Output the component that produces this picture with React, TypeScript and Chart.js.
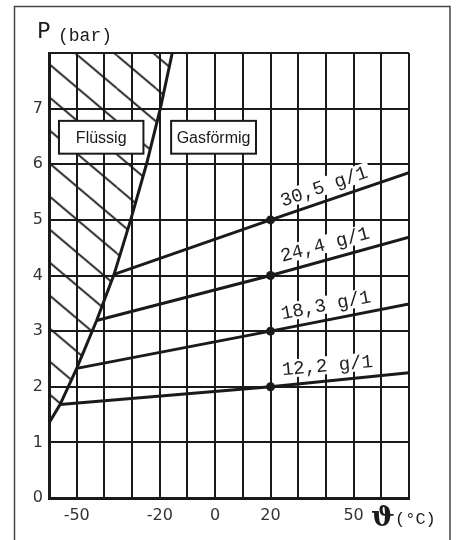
import { useEffect, useRef } from "react";
import { Chart, registerables } from "chart.js";

Chart.register(...registerables);

// Liquid / gas boundary (temperature °C, pressure bar)
const boundaryTemps = [-60, -56, -50, -42.8, -36.5, -30.5, -24.8, -19.8, -15.5];
const boundaryPressures = [1.35, 1.68, 2.33, 3.19, 4.02, 5, 6, 7, 8];

// Isochores
const iso12Temps = [-56, 20, 70];
const iso12Pressures = [1.68, 2.0, 2.25];
const iso18Temps = [-50, 20, 70];
const iso18Pressures = [2.33, 3.0, 3.49];
const iso24Temps = [-42.8, 20, 70];
const iso24Pressures = [3.19, 4.0, 4.69];
const iso30Temps = [-36.5, 20, 70];
const iso30Pressures = [4.02, 5.0, 5.85];
const isoLabels = ["12,2 g/1", "18,3 g/1", "24,4 g/1", "30,5 g/1"];

// Marked points
const markerTemps = [20, 20, 20, 20];
const markerPressures = [2, 3, 4, 5];

// Tick labels
const xTickLabels = [-50, -20, 0, 20, 50];
const yTickLabels = [0, 1, 2, 3, 4, 5, 6, 7];
const phaseLabels = ["Flüssig", "Gasförmig"];

const INK = "#1a1a1a";

const toPoints = (xs: number[], ys: number[]) => xs.map((x, i) => ({ x, y: ys[i] }));

const isoSeries = [
  { temps: iso12Temps, pressures: iso12Pressures },
  { temps: iso18Temps, pressures: iso18Pressures },
  { temps: iso24Temps, pressures: iso24Pressures },
  { temps: iso30Temps, pressures: iso30Pressures },
];

function makeHatch(): CanvasPattern | string {
  const W = 39, H = 33;
  const c = document.createElement("canvas");
  c.width = W;
  c.height = H;
  const g = c.getContext("2d");
  if (!g) return "rgba(0,0,0,0)";
  g.strokeStyle = INK;
  g.lineWidth = 1.8;
  for (const k of [-1, 0, 1]) {
    g.beginPath();
    g.moveTo(0, k * H);
    g.lineTo(W, H + k * H);
    g.stroke();
  }
  const pat = g.createPattern(c, "repeat");
  if (!pat) return "rgba(0,0,0,0)";
  try {
    pat.setTransform(new DOMMatrix().translate(0, 22.5));
  } catch (e) {}
  return pat;
}

const overlayPlugin = {
  id: "overlay",
  afterDatasetsDraw(chart: any) {
    const { ctx } = chart;
    const xs = chart.scales.x;
    const ys = chart.scales.y;
    ctx.save();

    // Phase boxes
    const boxes = [
      { text: phaseLabels[0], x0: -56.4, x1: -25.9 },
      { text: phaseLabels[1], x0: -15.9, x1: 14.75 },
    ];
    const by0 = ys.getPixelForValue(6.78);
    const by1 = ys.getPixelForValue(6.19);
    for (const b of boxes) {
      const px0 = xs.getPixelForValue(b.x0);
      const px1 = xs.getPixelForValue(b.x1);
      ctx.fillStyle = "#fff";
      ctx.fillRect(px0, by0, px1 - px0, by1 - by0);
      ctx.strokeStyle = INK;
      ctx.lineWidth = 2;
      ctx.strokeRect(px0, by0, px1 - px0, by1 - by0);
      ctx.fillStyle = INK;
      ctx.font = '16px "Liberation Sans", Arial, sans-serif';
      ctx.textAlign = "center";
      ctx.textBaseline = "middle";
      ctx.fillText(b.text, (px0 + px1) / 2, (by0 + by1) / 2 + 1);
    }

    // Isochore labels
    isoSeries.forEach((s, i) => {
      const t = s.temps, p = s.pressures;
      const n = t.length - 1;
      const ax = xs.getPixelForValue(t[0]), ay = ys.getPixelForValue(p[0]);
      const bx = xs.getPixelForValue(t[n]), byy = ys.getPixelForValue(p[n]);
      const a = Math.atan2(byy - ay, bx - ax);
      const lx = 41;
      const ly = p[0] + ((p[n] - p[0]) * (lx - t[0])) / (t[n] - t[0]);
      const px = xs.getPixelForValue(lx), py = ys.getPixelForValue(ly);
      const cx = px + Math.sin(a) * 15;
      const cy = py - Math.cos(a) * 15;
      ctx.save();
      ctx.translate(cx, cy);
      ctx.rotate(a);
      ctx.font = '19px "Liberation Mono", "DejaVu Sans Mono", monospace';
      const w = ctx.measureText(isoLabels[i]).width;
      ctx.fillStyle = "#fff";
      ctx.fillRect(-w / 2 - 3, -9, w + 6, 18);
      ctx.fillStyle = "#222";
      ctx.textAlign = "center";
      ctx.textBaseline = "middle";
      ctx.fillText(isoLabels[i], 0, 1);
      ctx.restore();
    });
    ctx.restore();
  },
  afterDraw(chart: any) {
    const { ctx } = chart;
    ctx.save();
    // outer frame
    ctx.strokeStyle = "#444";
    ctx.lineWidth = 1.5;
    ctx.strokeRect(14.5, 6.5, 435.5, 600);
    // axis titles
    ctx.fillStyle = INK;
    ctx.textAlign = "left";
    ctx.textBaseline = "alphabetic";
    ctx.font = '22px "DejaVu Sans", sans-serif';
    ctx.fillText("P", 37, 38);
    ctx.font = '18px "Liberation Mono", "DejaVu Sans Mono", monospace';
    ctx.fillText("(bar)", 58, 41);
    ctx.font = 'bold 28px "DejaVu Serif", serif';
    ctx.fillText("ϑ", 371, 526);
    ctx.font = '17px "Liberation Mono", "DejaVu Sans Mono", monospace';
    ctx.fillText("(°C)", 395, 524);
    ctx.restore();
  },
};

export default function App() {
  const ref = useRef<HTMLCanvasElement>(null);

  useEffect(() => {
    if (!ref.current) return;
    const hatch = makeHatch();
    const lineDs = (data: any[]) => ({
      data,
      showLine: true,
      borderColor: INK,
      borderWidth: 3,
      pointRadius: 0,
      fill: false,
    });
    const chart = new Chart(ref.current, {
      type: "scatter",
      data: {
        datasets: [
          {
            data: toPoints(boundaryTemps, boundaryPressures),
            showLine: true,
            borderColor: INK,
            borderWidth: 3,
            pointRadius: 0,
            fill: "end",
            backgroundColor: hatch as any,
          },
          lineDs(toPoints(iso12Temps, iso12Pressures)),
          lineDs(toPoints(iso18Temps, iso18Pressures)),
          lineDs(toPoints(iso24Temps, iso24Pressures)),
          lineDs(toPoints(iso30Temps, iso30Pressures)),
          {
            data: toPoints(markerTemps, markerPressures),
            showLine: false,
            pointRadius: 4.5,
            pointBackgroundColor: INK,
            pointBorderColor: INK,
            pointBorderWidth: 0,
          },
        ],
      } as any,
      options: {
        responsive: false,
        animation: false,
        events: [],
        layout: { padding: { left: 14, right: 47, top: 53, bottom: 0 } },
        plugins: {
          legend: { display: false },
          tooltip: { enabled: false },
        },
        scales: {
          x: {
            type: "linear",
            min: -60,
            max: 70,
            afterFit: (s: any) => {
              s.height = 42;
            },
            ticks: {
              stepSize: 10,
              autoSkip: false,
              maxRotation: 0,
              padding: 8,
              color: "#333",
              font: { family: '"DejaVu Sans", sans-serif', size: 16 },
              callback: (v: any) => (xTickLabels.includes(Number(v)) ? String(v) : ""),
            },
            grid: { color: INK, lineWidth: 2, drawTicks: false },
            border: { color: INK, width: 3 },
          },
          y: {
            type: "linear",
            min: 0,
            max: 8,
            afterFit: (s: any) => {
              s.width = 35;
            },
            ticks: {
              stepSize: 1,
              autoSkip: false,
              padding: 6,
              color: "#333",
              font: { family: '"DejaVu Sans", sans-serif', size: 16 },
              callback: (v: any) => (yTickLabels.includes(Number(v)) ? String(v) : ""),
            },
            grid: { color: INK, lineWidth: 2, drawTicks: false },
            border: { color: INK, width: 3 },
          },
        },
      } as any,
      plugins: [overlayPlugin],
    });
    return () => chart.destroy();
  }, []);

  return (
    <div style={{ position: "absolute", left: 0, top: 0, width: 456, height: 540, background: "#fff" }}>
      <canvas ref={ref} width={456} height={540} style={{ display: "block" }} />
    </div>
  );
}
